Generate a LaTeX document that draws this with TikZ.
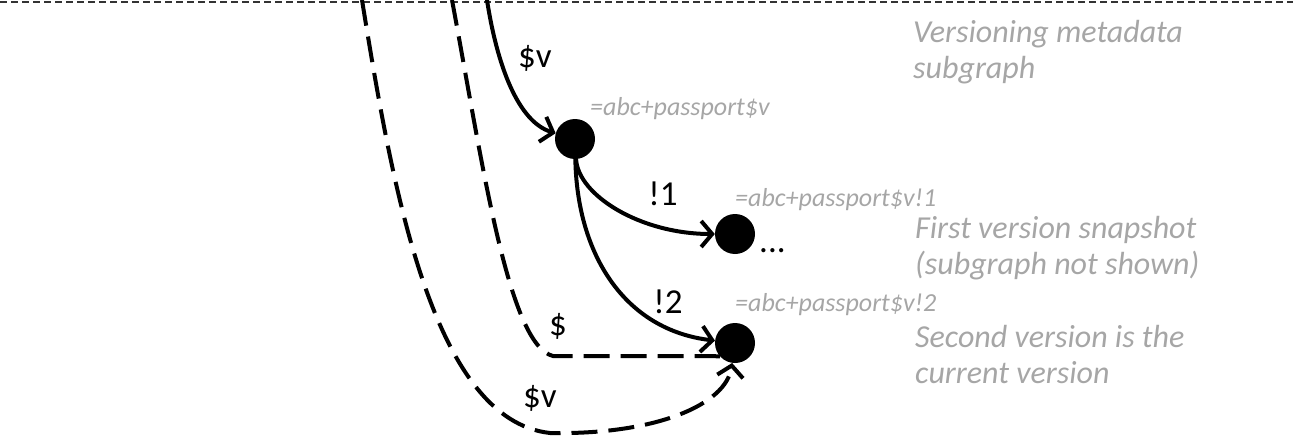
\documentclass[tikz,border=0pt]{standalone}
\usepackage{fontspec}
\setmainfont{Carlito}
\usetikzlibrary{arrows.meta}
\definecolor{lbl}{RGB}{166,166,166}
\tikzset{
  dot/.style={circle,fill=black,draw=none,minimum size=40pt,inner sep=0pt},
  edge/.style={line width=4pt,line cap=round,-{Straight Barb[length=11pt,width=26pt,line width=4pt]}},
  dashedge/.style={edge,dash pattern=on 26pt off 11pt,line cap=butt},
  plainedge/.style={line width=4pt,dash pattern=on 26pt off 11pt},
  elabel/.style={font=\fontsize{35}{40}\selectfont,inner sep=0pt,text=black},
  idlabel/.style={font=\fontsize{26}{30}\selectfont\itshape,text=lbl,inner sep=0pt,anchor=base west},
  note/.style={font=\fontsize{32}{36}\selectfont\itshape,text=lbl,inner sep=0pt,align=left,anchor=north west},
  boundary/.style={line width=1.3pt,dash pattern=on 7pt off 4pt,draw=black!80}
}
\begin{document}
\begin{tikzpicture}[x=1pt,y=-1pt]
\useasboundingbox (0,0) rectangle (1293,436);
% boundary line
\coordinate (bl) at (0,2);
\coordinate (br) at (1293,2);
\draw[boundary] (bl) -- (br);
% nodes
\node[dot] (A) at (575,139) {};
\node[dot] (B) at (735,234) {};
\node[dot] (C) at (735,343) {};
\node[elabel,anchor=base west] (dots) at (759,252) {...};
% free ends at top
\coordinate (t1) at (487,0);
\coordinate (t2) at (452,0);
\coordinate (t3) at (362,0);
\coordinate (k2) at (553,356);
\coordinate (k3) at (550,433);
% solid edges
\draw[edge] (t1) .. controls (497,65) and (518,122) .. (A);
\draw[edge] (A) .. controls (578,195) and (640,234) .. (B);
\draw[edge] (A) .. controls (577,255) and (625,330) .. (C);
% dashed edges
\draw[plainedge] (t2) .. controls (482,160) and (508,345) .. (k2) -- (C.221);
\draw[dashedge] (t3) .. controls (392,185) and (432,420) .. (k3) .. controls (655,435) and (726,405) .. (C);
% edge labels
\node[elabel] (lv) at (535,58) {\$v};
\node[elabel] (l1) at (663,194) {!1};
\node[elabel] (l2) at (668,302) {!2};
\node[elabel] (ld) at (558,326) {\$};
\node[elabel] (lv2) at (540,398) {\$v};
% id labels
\node[idlabel] (ia) at (590,115) {=abc+passport\$v};
\node[idlabel] (ib) at (735,206) {=abc+passport\$v!1};
\node[idlabel] (ic) at (735,311) {=abc+passport\$v!2};
% notes
\node[note] (n1) at (913,20) {Versioning metadata\\subgraph};
\node[note] (n2) at (915,216) {First version snapshot\\(subgraph not shown)};
\node[note] (n3) at (915,325) {Second version is the\\current version};
\end{tikzpicture}
\end{document}
